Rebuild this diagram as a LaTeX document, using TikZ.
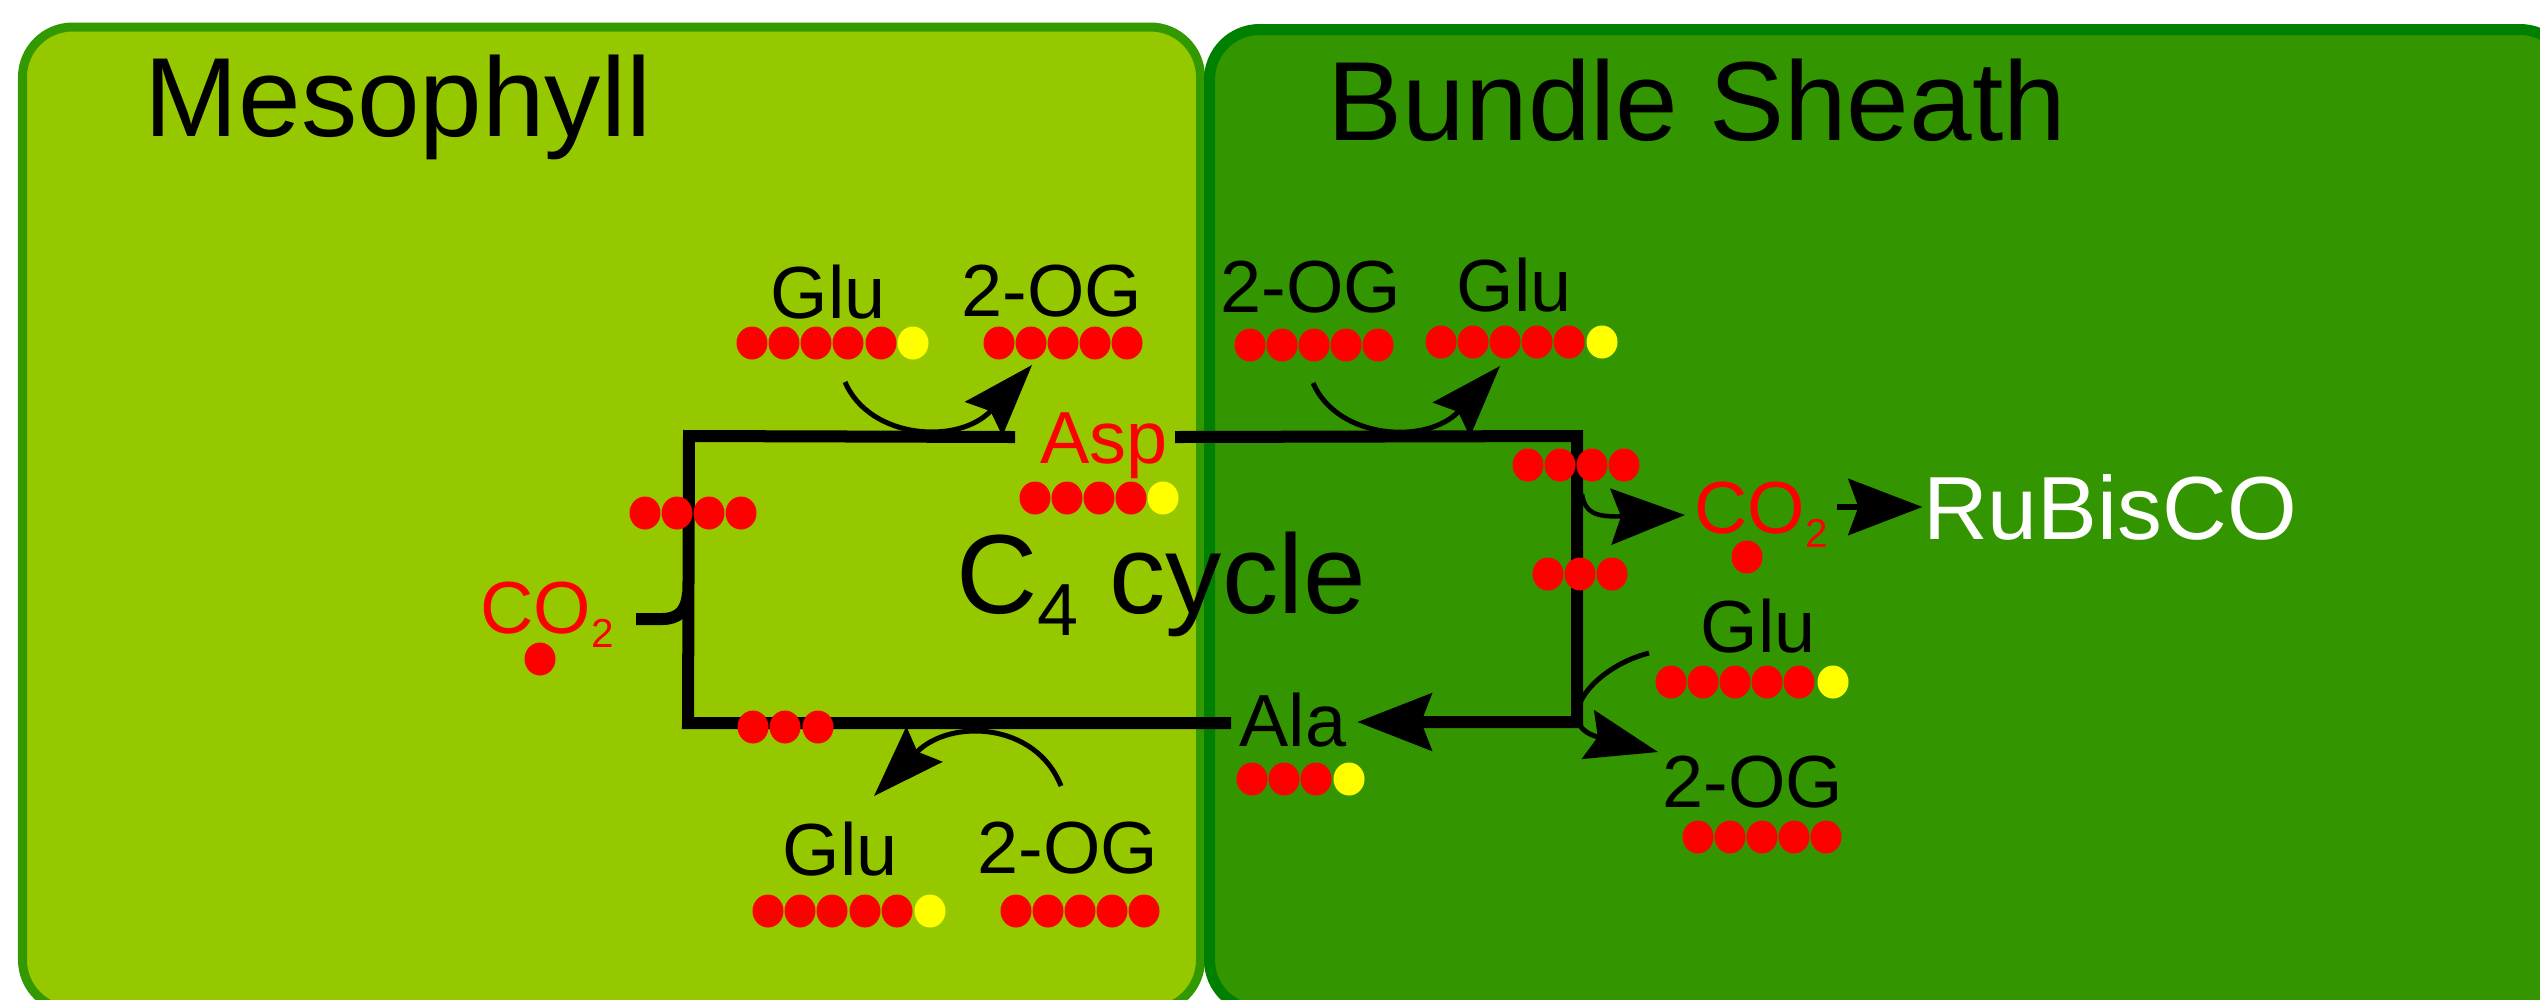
\documentclass[tikz,border=0pt]{standalone}
\usepackage{fontspec}
\setmainfont{Liberation Sans}
\usetikzlibrary{arrows.meta}

\definecolor{mesofill}{RGB}{150,200,0}
\definecolor{mesoline}{RGB}{51,153,0}
\definecolor{bsfill}{RGB}{51,150,0}
\definecolor{bsline}{RGB}{0,128,0}
\definecolor{carbon}{RGB}{255,0,0}
\definecolor{nitrogen}{RGB}{255,255,0}

\tikzset{
  % arrow heads
  swingtip/.tip={Stealth[length=0.72cm,width=0.5cm,inset=0.1cm]},
  bigtip/.tip={Stealth[length=0.74cm,width=0.56cm,inset=0.1cm]},
  % text
  title/.style={font=\fontsize{32}{38}\selectfont, anchor=base, inner sep=0pt},
  lbl/.style={font=\fontsize{21}{25}\selectfont, anchor=base, inner sep=0pt},
  rub/.style={font=\fontsize{25.5}{30}\selectfont, anchor=base, inner sep=0pt, text=white},
  % cells
  cellbox/.style={rounded corners=0.5cm},
  % lines
  cycleline/.style={line width=0.12cm, line join=miter},
  swing/.style={line width=0.05cm, -swingtip},
  heavyarrow/.style={line width=0.065cm, -bigtip},
  % carbon / nitrogen atoms
  atom/.style={x radius=0.155cm, y radius=0.165cm},
  cdot/.style={atom, fill=carbon},
  ndot/.style={atom, fill=nitrogen},
}

\begin{document}
\begin{tikzpicture}[x=0.01cm, y=-0.01cm]
\useasboundingbox (0,0) rectangle (2540,999);
\fill[white] (0,0) rectangle (2540,999);
\clip (0,0) rectangle (2540,999);

% the two cells
\draw[cellbox, draw=mesoline, fill=mesofill, line width=0.09cm]
  (22.5,27) rectangle (1200.5,1010);
\draw[cellbox, draw=bsline, fill=bsfill, line width=0.11cm]
  (1209.5,29.5) rectangle (2570,1010);

\node[title] (mesoT) at (398,136) {Mesophyll};
\node[title] (bsT) at (1697,140) {Bundle Sheath};

% labels
\node[lbl] (gluTL) at (828,318) {Glu};
\node[lbl] (ogTL) at (1052,316) {2-OG};
\node[lbl, text=carbon] (asp) at (1104,463) {Asp};
\node[title] (c4) at (1161,613) {C\raisebox{-6.3pt}{\fontsize{21}{25}\selectfont 4} cycle};
\node[lbl] (ogTR) at (1311,312) {2-OG};
\node[lbl] (gluTR) at (1514,311) {Glu};
\node[lbl, text=carbon] (co2L) at (547,633) {CO\raisebox{-4pt}{\fontsize{11.5}{13}\selectfont 2}};
\node[lbl, text=carbon] (co2R) at (1761,533) {CO\raisebox{-4.2pt}{\fontsize{11.5}{13}\selectfont 2}};
\node[rub] (rubisco) at (2110,539) {RuBisCO};
\node[lbl] (gluR) at (1758,652) {Glu};
\node[lbl] (ogR) at (1753,807) {2-OG};
\node[lbl] (ala) at (1293,746) {Ala};
\node[lbl] (gluB) at (840,875) {Glu};
\node[lbl] (ogB) at (1068,873) {2-OG};

% corners and open ends of the cycle
\coordinate (tl) at (689,436);
\coordinate (tr) at (1577,436);
\coordinate (br) at (1577,722);
\coordinate (bl) at (688,723);
\coordinate (aspIn) at (1015,437);
\coordinate (aspOut) at (1175,437);
\coordinate (alaTip) at (1357,722);
\coordinate (alaOut) at (1231,723);
\coordinate (co2hook) at (636,619);

% the C4 cycle
\draw[cycleline] (aspIn) -- (tl) -- (bl) -- (alaOut);
\draw[cycleline, -bigtip] (aspOut) -- (tr) -- (br) -- (alaTip);
\draw[cycleline] (co2hook) -- (662,619) .. controls (679,619) and (687,610) .. (688,592);

% transamination and decarboxylation arrows
\coordinate (tlS) at (845,382);  \coordinate (tlE) at (1032,365);
\coordinate (trS) at (1313,383); \coordinate (trE) at (1500,366);
\coordinate (blS) at (1061,786); \coordinate (blE) at (874,796);
\coordinate (rS) at (1649,653);  \coordinate (rE) at (1658,752);
\coordinate (cS) at (1582,494);  \coordinate (cE) at (1685,515);
\draw[swing] (tlS) .. controls (870,440) and (960,445) .. (tlE);
\draw[swing] (trS) .. controls (1338,440) and (1428,445) .. (trE);
\draw[swing] (blS) .. controls (1036,722) and (950,718) .. (blE);
\draw[swing] (rS) .. controls (1590,668) and (1550,725) .. (rE);
\draw[line width=0.045cm, -bigtip] (cS) .. controls (1585,513) and (1595,517) .. (cE);
\draw[heavyarrow, shorten <=0.09cm] (rubisco.west -| co2R.east) -- (rubisco.west);

% carbon skeletons
\foreach \x in {752,784,816,848,881} \path[cdot] (\x,343) ellipse;
\path[ndot] (913,343) ellipse;
\foreach \x in {999,1031,1063,1095,1127} \path[cdot] (\x,343) ellipse;
\foreach \x in {1035,1067,1099,1131} \path[cdot] (\x,498) ellipse;
\path[ndot] (1163,498) ellipse;
\foreach \x in {645,677,709,741} \path[cdot] (\x,513) ellipse;
\path[cdot] (540,659) ellipse;
\foreach \x in {753,785,818} \path[cdot] (\x,727) ellipse;
\foreach \x in {768,800,832,865,897} \path[cdot] (\x,911) ellipse;
\path[ndot] (930,911) ellipse;
\foreach \x in {1016,1048,1080,1112,1144} \path[cdot] (\x,911) ellipse;
\foreach \x in {1252,1284,1316} \path[cdot] (\x,779) ellipse;
\path[ndot] (1349,779) ellipse;
\foreach \x in {1250,1282,1314,1346,1378} \path[cdot] (\x,345) ellipse;
\foreach \x in {1441,1473,1505,1537,1569} \path[cdot] (\x,342) ellipse;
\path[ndot] (1602,342) ellipse;
\foreach \x in {1528,1560,1592,1624} \path[cdot] (\x,465) ellipse;
\foreach \x in {1548,1580,1612} \path[cdot] (\x,574) ellipse;
\path[cdot] (1747,557) ellipse;
\foreach \x in {1671,1703,1735,1767,1799} \path[cdot] (\x,682) ellipse;
\path[ndot] (1833,682) ellipse;
\foreach \x in {1698,1730,1762,1794,1826} \path[cdot] (\x,837) ellipse;
\end{tikzpicture}
\end{document}
